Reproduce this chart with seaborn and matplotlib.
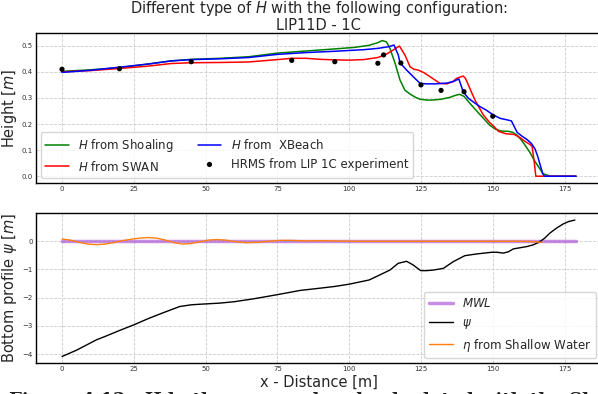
import numpy as np
import pandas as pd
import matplotlib
matplotlib.use("Agg")
import matplotlib.pyplot as plt
import seaborn as sns


# wave height along the profile
x_shoal = [0, 10, 20, 30, 38, 45, 55, 65, 75, 85, 95, 102, 107, 110, 111.5, 113, 114.2, 116,
           117.7, 119.4, 121.2, 123, 124.7, 127, 129, 132, 135, 137, 138.5, 140, 142, 144,
           146.5, 149, 151, 153, 155.5, 157, 158.5, 160, 161.5, 163, 164.5, 166, 167.5, 170, 179]
h_shoal = [0.402, 0.408, 0.416, 0.43, 0.442, 0.448, 0.452, 0.458, 0.472, 0.48, 0.488, 0.494,
           0.502, 0.512, 0.52, 0.515, 0.49, 0.433, 0.369, 0.33, 0.315, 0.303, 0.295, 0.292,
           0.292, 0.295, 0.302, 0.31, 0.314, 0.306, 0.28, 0.255, 0.225, 0.195, 0.18, 0.173,
           0.172, 0.168, 0.157, 0.138, 0.115, 0.09, 0.06, 0.035, 0.01, 0.0, 0.0]

x_swan = [0, 10, 20, 30, 38, 45, 55, 65, 75, 80, 85, 90, 95, 100, 105, 110, 113, 115.5, 117.5,
          119.4, 121.2, 122.5, 124, 126, 128.1, 131.6, 134, 136, 137.4, 139.7, 140.5, 141.5,
          143.8, 146.7, 149, 150.5, 152, 154.5, 157.5, 159.5, 161, 162.5, 163.7, 164.5, 165, 179]
h_swan = [0.40, 0.405, 0.413, 0.422, 0.432, 0.435, 0.436, 0.438, 0.447, 0.452, 0.452, 0.448,
          0.446, 0.445, 0.447, 0.455, 0.468, 0.485, 0.499, 0.465, 0.42, 0.41, 0.407, 0.397,
          0.382, 0.356, 0.354, 0.362, 0.375, 0.384, 0.375, 0.35, 0.292, 0.235, 0.205, 0.19,
          0.172, 0.163, 0.16, 0.148, 0.135, 0.125, 0.115, 0.05, 0.0, 0.0]

x_xbeach = [0, 10, 20, 30, 38, 45, 55, 65, 75, 85, 95, 105, 110, 114, 115.6, 117.1, 117.7, 120,
            122.9, 124.7, 127, 130, 134, 136.3, 138.2, 139.7, 141.5, 143.2, 145.5, 147.5, 150.2,
            152.5, 155, 156.5, 157.5, 158.5, 160, 162, 163.5, 164.7, 165.7, 166.6, 167.4, 168, 179]
h_xbeach = [0.398, 0.406, 0.418, 0.43, 0.442, 0.447, 0.450, 0.455, 0.467, 0.474, 0.479, 0.485,
            0.49, 0.497, 0.503, 0.465, 0.435, 0.407, 0.375, 0.356, 0.354, 0.354, 0.357, 0.363,
            0.373, 0.324, 0.299, 0.285, 0.267, 0.255, 0.235, 0.222, 0.216, 0.212, 0.19, 0.168,
            0.155, 0.14, 0.125, 0.105, 0.075, 0.04, 0.01, 0.0, 0.0]

x_lip = [0, 20, 45, 80, 95, 110, 112, 118, 125, 132, 140, 150]
h_lip = [0.41, 0.412, 0.439, 0.444, 0.439, 0.433, 0.465, 0.434, 0.35, 0.329, 0.324, 0.23]

# bottom profile and free surface
x_bed = [0, 5, 12, 15, 20, 25, 30, 35, 41, 45, 48, 55, 60, 66.6, 70, 75, 83, 90, 95, 100, 107,
         110.7, 114.2, 117.1, 120, 122.3, 124.9, 127, 129.3, 132.8, 136.3, 140.3, 144.4,
         149.6, 151.5, 153.7, 155.5, 157.2, 161.8, 164, 165.8, 168, 169.8, 172, 174.5, 176.5,
         178.6]
z_bed = [-4.08, -3.86, -3.49, -3.37, -3.16, -2.96, -2.74, -2.54, -2.31, -2.25, -2.23, -2.19,
         -2.14, -2.04, -1.98, -1.89, -1.74, -1.66, -1.6, -1.52, -1.37, -1.19, -1.02, -0.78,
         -0.71, -0.84, -1.04, -1.04, -1.02, -0.96, -0.72, -0.51, -0.45, -0.39, -0.39, -0.42,
         -0.37, -0.27, -0.19, -0.13, -0.05, 0.1, 0.28, 0.45, 0.61, 0.7, 0.75]

x_mwl = [0, 179]
z_mwl = [0, 0]

x_eta = [0, 3, 6, 9, 12, 15, 18, 21, 24, 27, 30, 33, 36, 39, 42, 45, 48, 51, 54, 57, 60, 64,
         68, 72, 76, 80, 85, 90, 95, 100, 110, 120, 130, 140, 150, 160, 165, 167]
z_eta = [0.08, 0.04, -0.04, -0.10, -0.12, -0.10, -0.05, 0.02, 0.07, 0.11, 0.13, 0.11, 0.04,
         -0.05, -0.10, -0.08, -0.02, 0.04, 0.06, 0.04, -0.01, -0.05, -0.04, 0.00, 0.03, 0.03,
         0.01, 0.02, 0.01, 0.0, 0.0, 0.0, 0.0, 0.0, 0.0, 0.0, -0.02, -0.04]


sns.set_style("whitegrid", {"grid.linestyle": "--", "grid.color": "#cccccc",
                            "axes.edgecolor": "black"})
plt.rcParams["grid.linewidth"] = 0.6

fig = plt.figure(figsize=(5.98, 3.94), dpi=100)
ax1 = fig.add_axes([36 / 598, 211 / 394, 565 / 598, 150 / 394])
ax2 = fig.add_axes([36 / 598, 31 / 394, 565 / 598, 150 / 394])

# 1. Wave height
sns.lineplot(x=x_shoal, y=h_shoal, ax=ax1, color="green", lw=1.1, sort=False,
             estimator=None, label="$H$ from Shoaling")
sns.lineplot(x=x_swan, y=h_swan, ax=ax1, color="red", lw=1.1, sort=False,
             estimator=None, label="$H$ from SWAN")
sns.lineplot(x=x_xbeach, y=h_xbeach, ax=ax1, color="blue", lw=1.1, sort=False,
             estimator=None, label="$H$ from  XBeach")
sns.scatterplot(x=x_lip, y=h_lip, ax=ax1, color="black", s=14, edgecolor="none",
                label="HRMS from LIP 1C experiment", zorder=5)
ax1.set_xlim(-9.05, 187.7)
ax1.set_ylim(-0.026, 0.549)
ax1.set_xticks([0, 25, 50, 75, 100, 125, 150, 175])
ax1.set_yticks([0.0, 0.1, 0.2, 0.3, 0.4, 0.5])
ax1.set_ylabel("Height [$m$]", fontsize=10.5)
ax1.yaxis.set_label_coords(-0.03, 0.5)
ax1.set_title("Different type of $H$ with the following configuration:\nLIP11D - 1C",
              fontsize=10.5, linespacing=1.05, pad=2)
ax1.legend(loc="lower left", ncol=2, fontsize=8.5, borderaxespad=0.4)

# 2. Bottom profile
sns.lineplot(x=x_mwl, y=z_mwl, ax=ax2, color="#9932cc", alpha=0.55, lw=2.5,
             label="$MWL$")
sns.lineplot(x=x_bed, y=z_bed, ax=ax2, color="black", lw=1.0, sort=False,
             estimator=None, label="$\\psi$")
sns.lineplot(x=x_eta, y=z_eta, ax=ax2, color="#ff7f0e", lw=1.0, sort=False,
             estimator=None, label="$\\eta$ from Shallow Water")
ax2.set_xlim(-9.05, 187.7)
ax2.set_ylim(-4.31, 1.0)
ax2.set_xticks([0, 25, 50, 75, 100, 125, 150, 175])
ax2.set_yticks([-4, -3, -2, -1, 0])
ax2.set_ylabel("Bottom profile $\\psi$ [$m$]", fontsize=10.5)
ax2.yaxis.set_label_coords(-0.03, 0.5)
ax2.set_xlabel("x - Distance [m]", fontsize=10.5, labelpad=2)
ax2.legend(loc="lower right", fontsize=8.5, borderaxespad=0.4)

for ax in (ax1, ax2):
    ax.tick_params(direction="in", length=3, width=0.6, labelsize=5, pad=2.5,
                   colors="#333333")
    for sp in ax.spines.values():
        sp.set_color("black")
        sp.set_linewidth(1.0)

# cropped page caption
fig.text(0.015, 0.004, "Figure 4.12:  H both measured and calculated with the Shoaling",
         va="top", fontsize=13, family="DejaVu Serif", weight="bold", color="#222222")

fig.savefig("out.png", dpi=100)
